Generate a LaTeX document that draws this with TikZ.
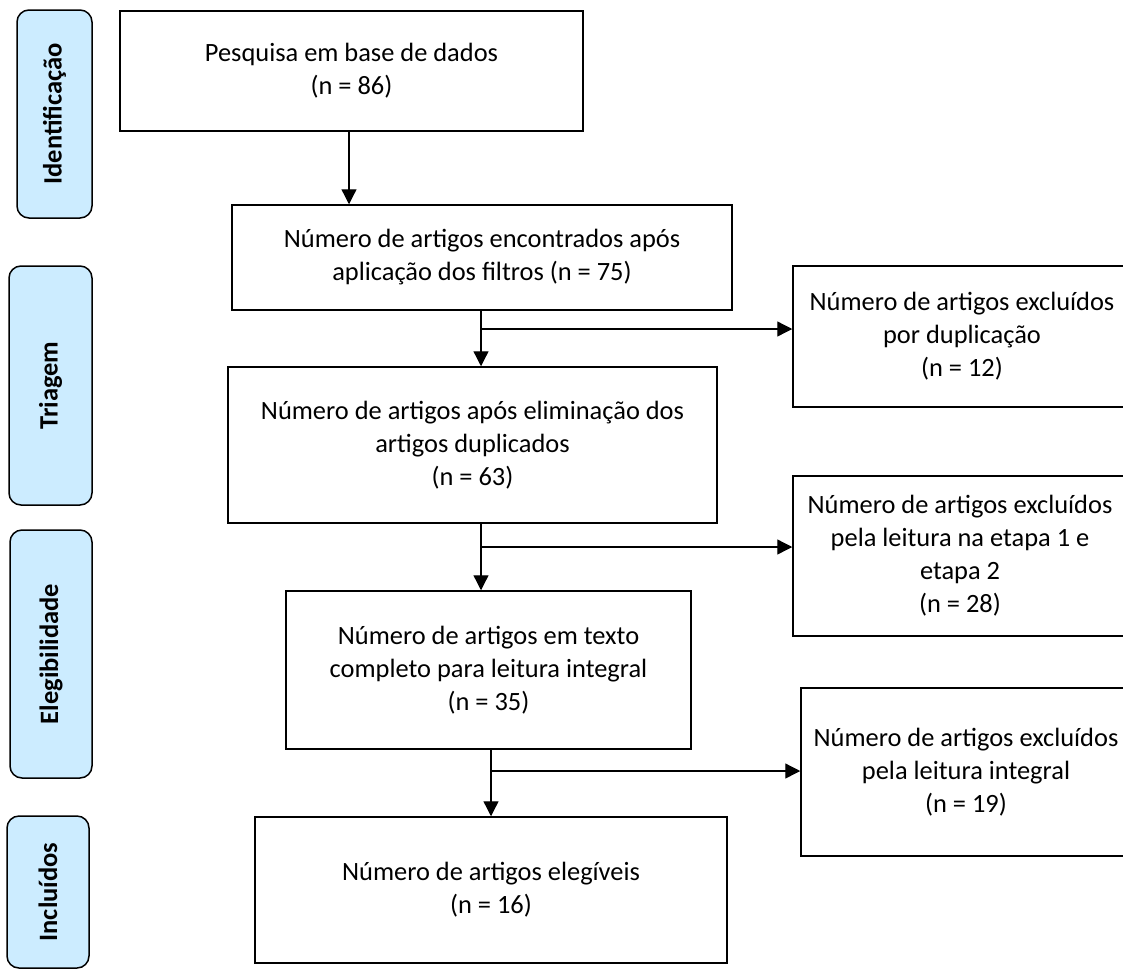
\documentclass[tikz,border=0pt]{standalone}
\usepackage{fontspec}
\setmainfont{Carlito}
\usetikzlibrary{arrows.meta}
\definecolor{sidefill}{HTML}{CCECFF}
\begin{document}
\begin{tikzpicture}[x=1pt,y=-1pt,
  box/.style={draw, line width=1.5pt, inner sep=0pt, align=center,
    font=\fontsize{26.4}{33}\selectfont},
  side/.style={draw, line width=1.5pt, fill=sidefill, rounded corners=12pt,
    rotate=90, inner sep=0pt, font=\bfseries\fontsize{26.5}{30}\selectfont},
  conn/.style={line width=1.3pt},
  arr/.style={line width=1.3pt, -{Triangle[length=15pt,width=15pt]}}]
\useasboundingbox (0,0) rectangle (1123,972);
\clip (0,0) rectangle (1123,972);
% phase labels
\node[side, minimum width=208pt, minimum height=75pt] (s1) at (54.5,114) {Identificação};
\node[side, minimum width=239pt, minimum height=83pt] (s2) at (50.5,385.5) {Triagem};
\node[side, minimum width=248pt, minimum height=82pt] (s3) at (51,654) {Elegibilidade};
\node[side, minimum width=152pt, minimum height=82pt] (s4) at (48,892) {Incluídos};
% main boxes
\node[box, minimum width=463pt, minimum height=120pt] (b1) at (351.5,71) {Pesquisa em base de dados\\(n = 86)};
\node[box, minimum width=500pt, minimum height=105pt] (b2) at (482,257.5) {Número de artigos encontrados após\\aplicação dos filtros (n = 75)};
\node[box, minimum width=489pt, minimum height=156pt] (b3) at (472.5,445) {Número de artigos após eliminação dos\\artigos duplicados\\(n = 63)};
\node[box, minimum width=405pt, minimum height=158pt] (b4) at (488.5,670) {Número de artigos em texto\\completo para leitura integral\\(n = 35)};
\node[box, minimum width=472pt, minimum height=146pt] (b5) at (491,890) {Número de artigos elegíveis\\(n = 16)};
% exclusion boxes
\node[box, minimum width=338pt, minimum height=141pt] (r1) at (962,336.5) {Número de artigos excluídos\\por duplicação\\(n = 12)};
\node[box, minimum width=334pt, minimum height=160pt] (r2) at (960,556) {Número de artigos excluídos\\pela leitura na etapa 1 e\\etapa 2\\(n = 28)};
\node[box, minimum width=330pt, minimum height=168pt] (r3) at (966,772) {Número de artigos excluídos\\pela leitura integral\\(n = 19)};
% junctions
\coordinate (j0) at (349,168);
\coordinate (j1) at (481,329);
\coordinate (j2) at (481,547);
\coordinate (j3) at (491,771);
% connectors
\draw[arr] (b1.south -| j0) -- (b2.north -| j0);
\draw[conn] (b2.south -| j1) -- (j1);
\draw[arr] (j1) -- (b3.north -| j1);
\draw[arr] (j1) -- (r1.west |- j1);
\draw[conn] (b3.south -| j2) -- (j2);
\draw[arr] (j2) -- (b4.north -| j2);
\draw[arr] (j2) -- (r2.west |- j2);
\draw[conn] (b4.south -| j3) -- (j3);
\draw[arr] (j3) -- (b5.north -| j3);
\draw[arr] (j3) -- (r3.west |- j3);
\end{tikzpicture}
\end{document}
